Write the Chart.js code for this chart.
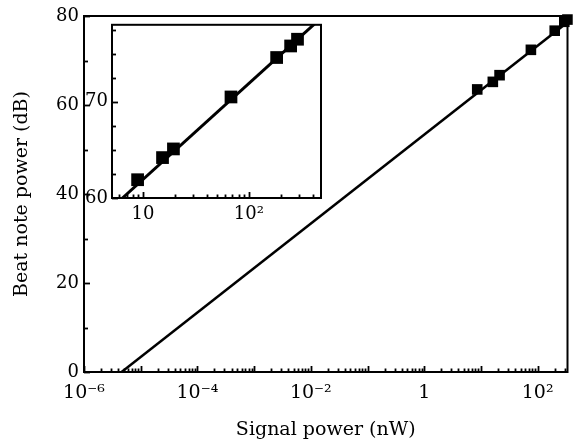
<!DOCTYPE html>
<html lang="en">
<head>
<meta charset="UTF-8">
<title>Beat note power vs signal power</title>
<script src="https://cdn.jsdelivr.net/npm/chart.js"></script>
<style>
  html, body { margin: 0; padding: 0; background: #fff; }
  #wrap { position: relative; width: 575px; height: 443px; }
  #mainChart { position: absolute; left: 0; top: 0; }
  #insetChart { position: absolute; left: 80px; top: 10px; }
</style>
</head>
<body>
<div id="wrap">
  <canvas id="mainChart" width="575" height="443"></canvas>
  <canvas id="insetChart" width="250" height="220"></canvas>
</div>
<script>
// main panel data (nW, dB)
const signalPower = [8.6, 16.2, 21.3, 76, 200, 295, 335];
const beatPower = [63.5, 65.2, 66.7, 72.4, 76.7, 78.7, 79.2];
const fitX = [4.6e-6, 336];
const fitY = [0, 78.6];

// inset data
const insetSignal = [8.9, 15.3, 19.4, 67.8, 183, 248, 288];
const insetBeat = [61.9, 64.2, 65.1, 70.5, 74.6, 75.8, 76.5];
const insetFitX = [6.4, 480];
const insetFitY = [60, 78.7];

// ticks
const mainXTicks = [1e-6, 1e-4, 1e-2, 1, 100];
const mainXLabels = ['10⁻⁶', '10⁻⁴', '10⁻²', '1', '10²'];
const mainXDecades = [1e-6, 1e-5, 1e-4, 1e-3, 1e-2, 1e-1, 1, 10, 100];
const mainYTicks = [0, 20, 40, 60, 80];
const mainYMinor = [10, 30, 50, 70];
const insetXTicks = [10, 100];
const insetXLabels = ['10', '10²'];
const insetXDecades = [1, 10, 100];
const insetYTicks = [60, 70];
const insetYMinor = [62.5, 65, 67.5, 72.5, 75, 77.5];

const serif = 'DejaVu Serif';
const tickFont = { family: serif, size: 18 };
const xTickFont = { family: serif, size: 19 };
const titleFont = { family: serif, size: 19 };

function pts(xs, ys) {
  return xs.map((x, i) => ({ x: x, y: ys[i] }));
}

// 2..9 x each decade, kept inside the axis range
function logMinors(decades, min, max) {
  let out = [];
  decades.forEach(d => {
    for (let k = 2; k <= 9; k++) {
      let v = d * k;
      if (v > min && v < max) out.push(v);
    }
  });
  return out;
}

// inward ticks on bottom/left + box frame
const frameTicks = {
  id: 'frameTicks',
  beforeDraw(chart, args, opts) {
    if (!opts.fill) return;
    const a = chart.chartArea;
    chart.ctx.save();
    chart.ctx.fillStyle = '#fff';
    chart.ctx.fillRect(a.left, a.top, a.right - a.left, a.bottom - a.top);
    chart.ctx.restore();
  },
  afterDraw(chart, args, opts) {
    const { ctx, chartArea: a, scales } = chart;
    ctx.save();
    ctx.strokeStyle = '#000';
    ctx.lineWidth = 1.8;
    const xt = (vals, len) => vals.forEach(v => {
      const x = Math.round(scales.x.getPixelForValue(v)) + 0.5;
      ctx.beginPath(); ctx.moveTo(x, a.bottom); ctx.lineTo(x, a.bottom - len); ctx.stroke();
    });
    const yt = (vals, len) => vals.forEach(v => {
      const y = Math.round(scales.y.getPixelForValue(v)) + 0.5;
      ctx.beginPath(); ctx.moveTo(a.left, y); ctx.lineTo(a.left + len, y); ctx.stroke();
    });
    xt(opts.xMajor, 6);
    xt(opts.xMinor, 3.5);
    yt(opts.yMajor, 6);
    yt(opts.yMinor, 4);
    ctx.lineWidth = 2;
    ctx.strokeRect(a.left, a.top, a.right - a.left, a.bottom - a.top);
    ctx.restore();
  }
};

function lineSet(xs, ys, w) {
  return { data: pts(xs, ys), showLine: true, borderColor: '#000', borderWidth: w,
           pointRadius: 0, order: 2 };
}
function markSet(xs, ys, r) {
  return { data: pts(xs, ys), showLine: false, pointStyle: 'rect', pointRadius: r,
           backgroundColor: '#000', borderColor: '#000', borderWidth: 0, clip: false, order: 1 };
}

new Chart(document.getElementById('mainChart'), {
  type: 'scatter',
  data: { datasets: [lineSet(fitX, fitY, 2.5), markSet(signalPower, beatPower, 7.5)] },
  options: {
    responsive: false,
    animation: false,
    layout: { padding: { top: 16, right: 5, left: 0, bottom: 0 } },
    plugins: {
      legend: { display: false },
      tooltip: { enabled: false },
      frameTicks: {
        xMajor: mainXDecades, xMinor: logMinors(mainXDecades, 1e-6, 336),
        yMajor: mainYTicks, yMinor: mainYMinor
      }
    },
    scales: {
      x: {
        type: 'logarithmic', min: 1e-6, max: 336,
        afterBuildTicks: s => { s.ticks = mainXTicks.map(v => ({ value: v })); },
        afterFit: s => { s.height = 71; },
        grid: { display: false, drawTicks: false },
        border: { display: false },
        ticks: { callback: (v, i) => mainXLabels[i], font: xTickFont, color: '#000',
                 padding: 10, maxRotation: 0, autoSkip: false },
        title: { display: true, text: 'Signal power (nW)', font: titleFont, color: '#000',
                 padding: { top: 4, bottom: 2 } }
      },
      y: {
        min: 0, max: 80,
        afterBuildTicks: s => { s.ticks = mainYTicks.map(v => ({ value: v })); },
        afterFit: s => { s.width = 84; },
        grid: { display: false, drawTicks: false },
        border: { display: false },
        ticks: { font: tickFont, color: '#000', padding: 5 },
        title: { display: true, text: 'Beat note power (dB)', font: titleFont, color: '#000',
                 padding: { top: 11, bottom: 0 } }
      }
    }
  },
  plugins: [frameTicks]
});

new Chart(document.getElementById('insetChart'), {
  type: 'scatter',
  data: { datasets: [lineSet(insetFitX, insetFitY, 3), markSet(insetSignal, insetBeat, 9)] },
  options: {
    responsive: false,
    animation: false,
    layout: { padding: { top: 12, right: 8, left: 0, bottom: 0 } },
    plugins: {
      legend: { display: false },
      tooltip: { enabled: false },
      frameTicks: {
        fill: true,
        xMajor: insetXTicks, xMinor: logMinors(insetXDecades, 5.1, 480),
        yMajor: insetYTicks, yMinor: insetYMinor
      }
    },
    scales: {
      x: {
        type: 'logarithmic', min: 5.1, max: 480,
        afterBuildTicks: s => { s.ticks = insetXTicks.map(v => ({ value: v })); },
        afterFit: s => { s.height = 32; },
        grid: { display: false, drawTicks: false },
        border: { display: false },
        ticks: { callback: (v, i) => insetXLabels[i], font: tickFont, color: '#000',
                 padding: 6, maxRotation: 0, autoSkip: false }
      },
      y: {
        min: 60, max: 78,
        afterBuildTicks: s => { s.ticks = insetYTicks.map(v => ({ value: v })); },
        afterFit: s => { s.width = 32; },
        grid: { display: false, drawTicks: false },
        border: { display: false },
        ticks: { font: tickFont, color: '#000', padding: 4 }
      }
    }
  },
  plugins: [frameTicks]
});
</script>
</body>
</html>
